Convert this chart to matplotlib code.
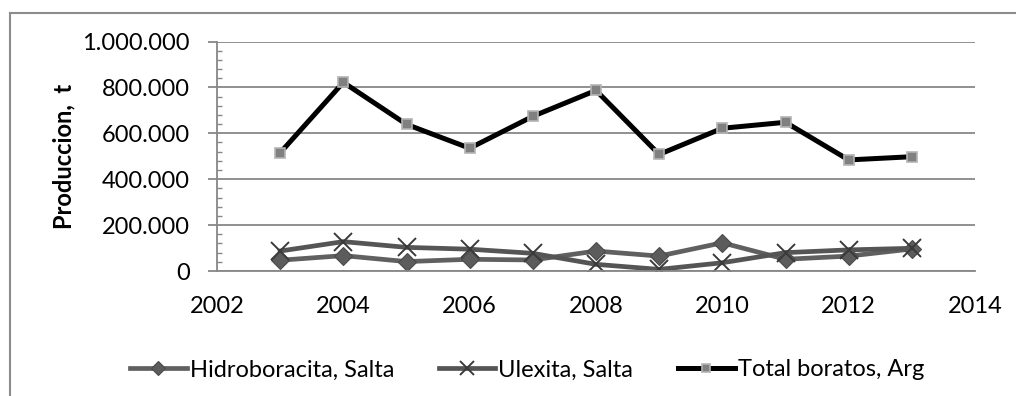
import matplotlib
matplotlib.use("Agg")
import matplotlib.pyplot as plt
from matplotlib.lines import Line2D
from matplotlib.ticker import FuncFormatter, MultipleLocator

plt.rcParams["font.family"] = ["Lato", "DejaVu Sans"]

# --- data ------------------------------------------------------------
years = [2003, 2004, 2005, 2006, 2007, 2008, 2009, 2010, 2011, 2012, 2013]
hidroboracita = [47000, 67000, 41000, 51000, 48000, 87000, 65000, 123000,
                 51000, 65000, 96000]
ulexita = [87000, 128000, 103000, 95000, 77000, 29000, 7000, 36000,
           80000, 92000, 99000]
total = [515000, 822000, 639000, 535000, 674000, 787000, 508000, 622000,
         648000, 484000, 498000]
labels = ["Hidroboracita, Salta", "Ulexita, Salta", "Total boratos, Arg"]
ylabel = "Produccion,  t"

GRID = "#878787"
FS = 17

fig = plt.figure(figsize=(10.16, 3.96), dpi=100)
ax = fig.add_axes([217 / 1016, 1 - 271 / 396, 758 / 1016, 229.5 / 396])

ax.plot(years, hidroboracita, color="#606060", lw=3.4, marker="D",
        ms=9, mfc="#5c5c5c", mec="#4a4a4a", mew=0.8, label=labels[0])
ax.plot(years, ulexita, color="#555555", lw=3.4, marker="x",
        ms=13, mec="#3a3a3a", mew=1.4, label=labels[1])
ax.plot(years, total, color="black", lw=3.6, marker="s",
        ms=7, mfc="#808080", mec="#b4b4b4", mew=1.2, label=labels[2])

ax.set_xlim(2002, 2014)
ax.set_ylim(0, 1000000)
ax.xaxis.set_major_locator(MultipleLocator(2))
ax.yaxis.set_major_locator(MultipleLocator(200000))
ax.yaxis.set_minor_locator(MultipleLocator(40000))
ax.yaxis.set_major_formatter(
    FuncFormatter(lambda v, p: f"{int(v):,}".replace(",", ".")))

ax.yaxis.grid(True, which="major", color=GRID, lw=1.3)
ax.set_axisbelow(True)
for s in ["top", "right"]:
    ax.spines[s].set_visible(False)
for s in ["left", "bottom"]:
    ax.spines[s].set_color(GRID)
    ax.spines[s].set_linewidth(1.3)

ax.tick_params(axis="y", which="major", direction="out", length=6.5,
               width=1.3, color=GRID, pad=13, labelsize=FS)
ax.tick_params(axis="y", which="minor", direction="in", length=3.5,
               width=1.0, color=GRID)
ax.tick_params(axis="x", which="major", length=0, pad=18, labelsize=FS)

ax.set_ylabel(ylabel, fontsize=FS, fontweight="bold", labelpad=5)

fig.legend(loc="center", bbox_to_anchor=(527 / 1016, 1 - 370 / 396),
           ncol=3, frameon=False, fontsize=FS, numpoints=1,
           handlelength=2.4, handletextpad=0.12, columnspacing=1.9,
           markerscale=0.8)

# outer chart frame (cut off at the right and bottom)
fig.add_artist(Line2D([10 / 1016, 10 / 1016], [0, 1 - 13 / 396],
                      transform=fig.transFigure, color="#8c8c8c", lw=1.5))
fig.add_artist(Line2D([10 / 1016, 1], [1 - 13 / 396, 1 - 13 / 396],
                      transform=fig.transFigure, color="#8c8c8c", lw=1.5))

fig.savefig("out.png", dpi=100)
